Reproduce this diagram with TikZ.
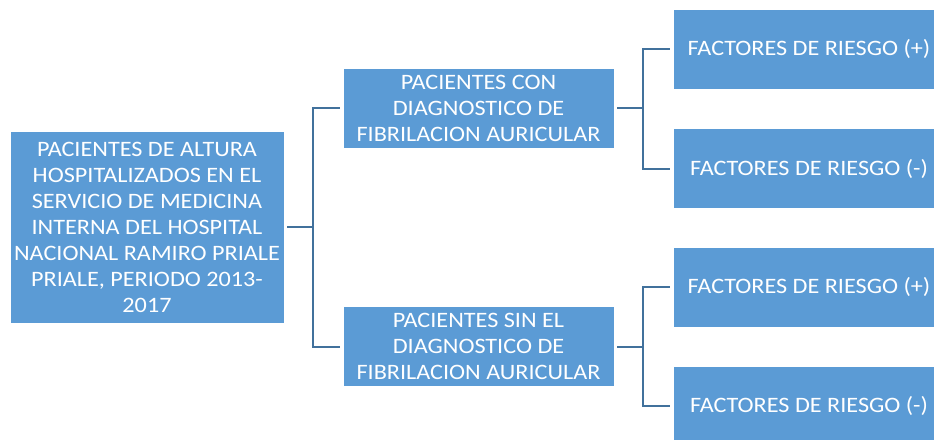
\documentclass[tikz,border=0pt]{standalone}
\usepackage{fontspec}
\setmainfont{Carlito}[FakeStretch=1.1]
\definecolor{boxblue}{HTML}{5B9BD5}
\definecolor{linkblue}{HTML}{41719C}
\tikzset{
  box/.style={fill=boxblue, draw=white, line width=0.8pt, text=white, align=center,
    inner sep=2pt, font=\fontsize{22}{26}\selectfont},
  midbox/.style={box, minimum width=271, minimum height=80},
  riskbox/.style={box, minimum width=272, minimum height=80},
  link/.style={draw=linkblue, line width=2pt, shorten <=3pt, shorten >=3pt}
}
\begin{document}
\begin{tikzpicture}[x=1pt,y=-1pt]
\useasboundingbox (0,0) rectangle (934,439);
\clip (0,0) rectangle (934,439);
% first level
\node[box, minimum width=274, minimum height=192] (root) at (147,227)
  {PACIENTES DE ALTURA\\HOSPITALIZADOS EN EL\\SERVICIO DE MEDICINA\\INTERNA DEL HOSPITAL\\NACIONAL RAMIRO PRIALE\\PRIALE, PERIODO 2013-\\2017};
% second level
\node[midbox] (conFA) at (478.5,108) {PACIENTES CON\\DIAGNOSTICO DE\\FIBRILACION AURICULAR};
\node[midbox] (sinFA) at (478.5,346.5) {PACIENTES SIN EL\\DIAGNOSTICO DE\\FIBRILACION AURICULAR};
% third level
\node[riskbox] (conPos) at (809,49) {FACTORES DE RIESGO (+)};
\node[riskbox] (conNeg) at (809,168.5) {FACTORES DE RIESGO (-)};
\node[riskbox] (sinPos) at (809,287) {FACTORES DE RIESGO (+)};
\node[riskbox] (sinNeg) at (809,406) {FACTORES DE RIESGO (-)};
% connectors
\draw[link] (root.east) -- ++(29,0) |- (conFA.west);
\draw[link] (root.east) -- ++(29,0) |- (sinFA.west);
\draw[link] (conFA.east) -- ++(29,0) |- (conPos.west);
\draw[link] (conFA.east) -- ++(29,0) |- (conNeg.west);
\draw[link] (sinFA.east) -- ++(29,0) |- (sinPos.west);
\draw[link] (sinFA.east) -- ++(29,0) |- (sinNeg.west);
\end{tikzpicture}
\end{document}
